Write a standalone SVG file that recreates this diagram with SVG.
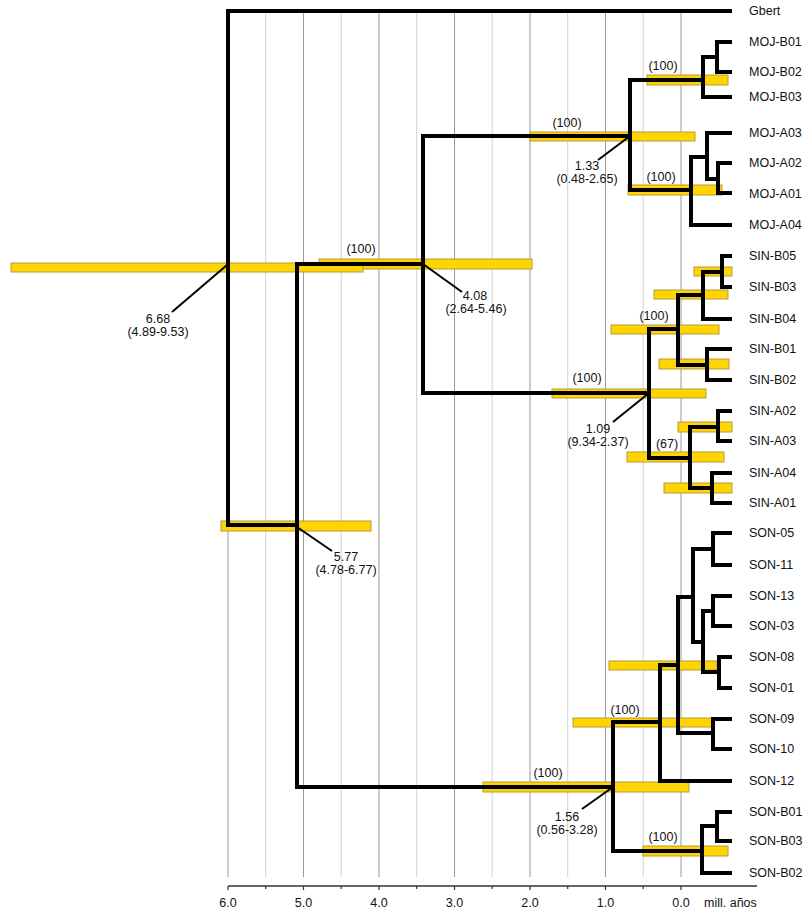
<svg xmlns="http://www.w3.org/2000/svg" width="811" height="915" viewBox="0 0 811 915">
<style>
.g1{stroke:#9a9a9a;stroke-width:1}
.g2{stroke:#d2d2d2;stroke-width:1}
.bar{fill:#FFD400;stroke:#B49C3C;stroke-width:1}
.br{fill:none;stroke:#000;stroke-width:4;stroke-linejoin:miter;stroke-linecap:butt}
.ld{stroke:#000;stroke-width:2}
text{font-family:"Liberation Sans",Arial,sans-serif;fill:#111}
.tip{font-size:12.5px}
.sup{font-size:12.5px;text-anchor:middle}
.val{font-size:12.5px;text-anchor:middle}
.ax{font-size:12.5px;text-anchor:middle}
</style>
<rect width="811" height="915" fill="#fff"/>
<g id="grid">
<line class="g1" x1="228" y1="9" x2="228" y2="877"/>
<line class="g2" x1="265.7" y1="9" x2="265.7" y2="877"/>
<line class="g1" x1="303.5" y1="9" x2="303.5" y2="877"/>
<line class="g2" x1="341.2" y1="9" x2="341.2" y2="877"/>
<line class="g1" x1="379" y1="9" x2="379" y2="877"/>
<line class="g2" x1="416.7" y1="9" x2="416.7" y2="877"/>
<line class="g1" x1="454.5" y1="9" x2="454.5" y2="877"/>
<line class="g2" x1="492.2" y1="9" x2="492.2" y2="877"/>
<line class="g1" x1="530" y1="9" x2="530" y2="877"/>
<line class="g2" x1="567.7" y1="9" x2="567.7" y2="877"/>
<line class="g1" x1="605.5" y1="9" x2="605.5" y2="877"/>
<line class="g2" x1="643.2" y1="9" x2="643.2" y2="877"/>
<line class="g1" x1="681" y1="9" x2="681" y2="877"/>
</g>
<g id="axis">
<line x1="228" y1="886" x2="757" y2="886" stroke="#333" stroke-width="1.5"/>
<path d="M228,886v4M265.7,886v3M303.5,886v4M341.2,886v3M379,886v4M416.7,886v3M454.5,886v4M492.2,886v3M530,886v4M567.7,886v3M605.5,886v4M643.2,886v3M681,886v4" stroke="#333" stroke-width="1.2"/>
<text class="ax" x="228" y="907">6.0</text>
<text class="ax" x="303.5" y="907">5.0</text>
<text class="ax" x="379" y="907">4.0</text>
<text class="ax" x="454.5" y="907">3.0</text>
<text class="ax" x="530" y="907">2.0</text>
<text class="ax" x="605.5" y="907">1.0</text>
<text class="ax" x="681" y="907">0.0</text>
<text class="ax" x="704" y="907" style="text-anchor:start">mill. años</text>
</g>
<g id="bars">
<rect class="bar" x="319" y="259" width="213" height="10"/>
<rect class="bar" x="11" y="263" width="352" height="9"/>
<rect class="bar" x="221" y="521" width="150" height="10"/>
<rect class="bar" x="530" y="132" width="165" height="9"/>
<rect class="bar" x="647" y="75" width="81" height="10"/>
<rect class="bar" x="628" y="185" width="94" height="10"/>
<rect class="bar" x="552" y="389" width="154" height="9"/>
<rect class="bar" x="611" y="325" width="108" height="9"/>
<rect class="bar" x="654" y="290" width="74" height="9"/>
<rect class="bar" x="694" y="267" width="38" height="9"/>
<rect class="bar" x="659" y="359" width="70" height="10"/>
<rect class="bar" x="627" y="452" width="97" height="10"/>
<rect class="bar" x="678" y="422" width="54" height="10"/>
<rect class="bar" x="664" y="483" width="68" height="10"/>
<rect class="bar" x="483" y="782" width="206" height="10"/>
<rect class="bar" x="573" y="718" width="139" height="9"/>
<rect class="bar" x="609" y="661" width="108" height="9"/>
<rect class="bar" x="643" y="846" width="85" height="10"/>
</g>
<g id="connectors">
<path class="br" d="M732,11H228V525H297"/>
<path class="br" d="M423,264H297V787H613"/>
<path class="br" d="M630,136H423V393H649"/>
<path class="br" d="M703,80H630V190H691"/>
<path class="br" d="M717,57H703V97H732"/>
<path class="br" d="M732,42H717V72H732"/>
<path class="br" d="M707,157H691V225H732"/>
<path class="br" d="M732,133H707V179H718"/>
<path class="br" d="M732,163H718V193H732"/>
<path class="br" d="M678,329H649V458H690"/>
<path class="br" d="M703,295H678V365H707"/>
<path class="br" d="M722,272H703V319H732"/>
<path class="br" d="M732,256H722V287H732"/>
<path class="br" d="M732,349H707V380H732"/>
<path class="br" d="M718,427H690V488H712"/>
<path class="br" d="M732,411H718V441H732"/>
<path class="br" d="M732,473H712V503H732"/>
<path class="br" d="M660,722H613V851H702"/>
<path class="br" d="M678,665H660V781H732"/>
<path class="br" d="M693,597H678V733H713"/>
<path class="br" d="M713,549H693V642H703"/>
<path class="br" d="M732,533H713V565H732"/>
<path class="br" d="M713,611H703V672H719"/>
<path class="br" d="M732,596H713V626H732"/>
<path class="br" d="M732,657H719V688H732"/>
<path class="br" d="M732,719H713V749H732"/>
<path class="br" d="M717,826H702V873H732"/>
<path class="br" d="M732,812H717V841H732"/>
<line class="ld" x1="172" y1="312" x2="227" y2="265"/>
<line class="ld" x1="297" y1="527" x2="332" y2="551"/>
<line class="ld" x1="423" y1="264" x2="462" y2="292"/>
<line class="ld" x1="598" y1="160" x2="630" y2="136"/>
<line class="ld" x1="613" y1="422" x2="649" y2="393"/>
<line class="ld" x1="582" y1="809" x2="613" y2="787"/>
</g>
<g id="tips" class="tip">
<text class="tip" x="749" y="15">Gbert</text>
<text class="tip" x="749" y="46">MOJ-B01</text>
<text class="tip" x="749" y="76">MOJ-B02</text>
<text class="tip" x="749" y="101">MOJ-B03</text>
<text class="tip" x="749" y="137">MOJ-A03</text>
<text class="tip" x="749" y="167">MOJ-A02</text>
<text class="tip" x="749" y="198">MOJ-A01</text>
<text class="tip" x="749" y="229">MOJ-A04</text>
<text class="tip" x="749" y="260">SIN-B05</text>
<text class="tip" x="749" y="291">SIN-B03</text>
<text class="tip" x="749" y="323">SIN-B04</text>
<text class="tip" x="749" y="353">SIN-B01</text>
<text class="tip" x="749" y="384">SIN-B02</text>
<text class="tip" x="749" y="415">SIN-A02</text>
<text class="tip" x="749" y="445">SIN-A03</text>
<text class="tip" x="749" y="477">SIN-A04</text>
<text class="tip" x="749" y="507">SIN-A01</text>
<text class="tip" x="749" y="537">SON-05</text>
<text class="tip" x="749" y="569">SON-11</text>
<text class="tip" x="749" y="600">SON-13</text>
<text class="tip" x="749" y="630">SON-03</text>
<text class="tip" x="749" y="661">SON-08</text>
<text class="tip" x="749" y="692">SON-01</text>
<text class="tip" x="749" y="723">SON-09</text>
<text class="tip" x="749" y="753">SON-10</text>
<text class="tip" x="749" y="785">SON-12</text>
<text class="tip" x="749" y="816">SON-B01</text>
<text class="tip" x="749" y="845">SON-B03</text>
<text class="tip" x="749" y="877">SON-B02</text>
</g>
<g id="support">
<text class="sup" x="361" y="253">(100)</text>
<text class="sup" x="567" y="127">(100)</text>
<text class="sup" x="663" y="70">(100)</text>
<text class="sup" x="661" y="181">(100)</text>
<text class="sup" x="587" y="382">(100)</text>
<text class="sup" x="654" y="320">(100)</text>
<text class="sup" x="667" y="448">(67)</text>
<text class="sup" x="548" y="777">(100)</text>
<text class="sup" x="625" y="714">(100)</text>
<text class="sup" x="663" y="841">(100)</text>
</g>
<g id="ages">
<text class="val" x="158" y="323">6.68</text>
<text class="val" x="158" y="336">(4.89-9.53)</text>
<text class="val" x="346" y="561">5.77</text>
<text class="val" x="346" y="574">(4.78-6.77)</text>
<text class="val" x="475" y="300">4.08</text>
<text class="val" x="476" y="313">(2.64-5.46)</text>
<text class="val" x="587" y="170">1.33</text>
<text class="val" x="587" y="183">(0.48-2.65)</text>
<text class="val" x="598" y="433">1.09</text>
<text class="val" x="598" y="446">(9.34-2.37)</text>
<text class="val" x="567" y="821">1.56</text>
<text class="val" x="567" y="834">(0.56-3.28)</text>
</g>
</svg>
